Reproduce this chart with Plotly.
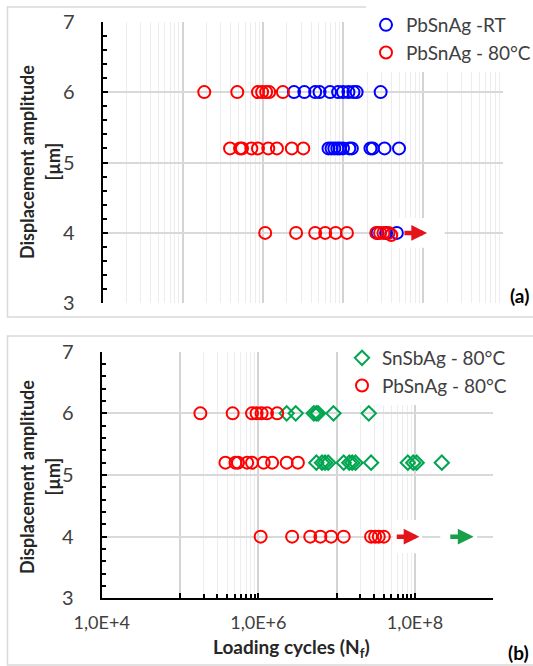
import math
import plotly.graph_objects as go

W, H = 533, 666

# ---------------- Panel (a) data ----------------
a_rt_cycles = [2.45e6, 3.3e6, 4.5e6, 5.1e6, 6.9e6, 8.7e6, 1.0e7, 1.17e7, 1.35e7, 1.48e7, 2.95e7,
               6.6e6, 7.2e6, 7.8e6, 8.5e6, 9.1e6, 1.0e7, 1.2e7, 1.29e7, 2.2e7, 2.35e7, 3.3e7, 5.0e7,
               2.7e7, 3.45e7, 4.7e7]
a_rt_amp = [6, 6, 6, 6, 6, 6, 6, 6, 6, 6, 6,
            5.2, 5.2, 5.2, 5.2, 5.2, 5.2, 5.2, 5.2, 5.2, 5.2, 5.2, 5.2,
            4, 4, 4]

a_80_cycles = [1.86e5, 4.8e5, 8.7e5, 9.8e5, 1.1e6, 1.2e6, 1.78e6,
               3.9e5, 5.2e5, 5.5e5, 7.2e5, 8.7e5, 1.17e6, 1.5e6, 2.3e6, 3.2e6,
               1.07e6, 2.6e6, 4.5e6, 6.0e6, 8.1e6, 1.12e7, 2.6e7, 2.9e7, 3.2e7, 3.7e7, 4.0e7]
a_80_amp = [6, 6, 6, 6, 6, 6, 6,
            5.2, 5.2, 5.2, 5.2, 5.2, 5.2, 5.2, 5.2, 5.2,
            4, 4, 4, 4, 4, 4, 4, 4, 4, 4, 3.97]

# ---------------- Panel (b) data ----------------
b_snsb_cycles = [2.3e6, 3.0e6, 5.1e6, 5.5e6, 5.8e6, 9.1e6, 2.57e7,
                 5.5e6, 6.5e6, 7.1e6, 7.8e6, 1.23e7, 1.45e7, 1.58e7, 1.74e7, 2.75e7, 8.1e7, 9.5e7, 1.05e8, 2.2e8]
b_snsb_amp = [6, 6, 6, 6, 6, 6, 6,
              5.2, 5.2, 5.2, 5.2, 5.2, 5.2, 5.2, 5.2, 5.2, 5.2, 5.2, 5.2, 5.2]

b_80_cycles = [1.82e5, 4.7e5, 8.3e5, 9.5e5, 1.1e6, 1.29e6, 1.74e6,
               3.8e5, 5.1e5, 5.5e5, 7.2e5, 8.3e5, 1.17e6, 1.5e6, 2.3e6, 3.2e6,
               1.07e6, 2.7e6, 4.6e6, 6.2e6, 8.5e6, 1.23e7, 2.75e7, 3.1e7, 3.45e7, 4.0e7]
b_80_amp = [6, 6, 6, 6, 6, 6, 6,
            5.2, 5.2, 5.2, 5.2, 5.2, 5.2, 5.2, 5.2, 5.2,
            4, 4, 4, 4, 4, 4, 4, 4, 4, 4]

# run-out arrows: (start cycles, end cycles, amplitude, colour)
a_arrows = [(5.6e7, 1.12e8, 4, "#E4141B")]
b_arrows = [(5.6e7, 1.14e8, 4, "#E4141B"), (2.7e8, 5.6e8, 4, "#17A04A")]
# white patches behind arrows: (x0, x1, y0, y1) in data units
a_patches = [(5.0e7, 1.86e8, 3.79, 4.21)]
b_patches = [(5.2e7, 1.23e8, 3.73, 4.27), (2.1e8, 6.2e8, 3.73, 4.27)]

x_major = [1e4, 1e5, 1e6, 1e7, 1e8, 1e9]
x_ticktext_b = ["1,0E+4", "", "1,0E+6", "", "1,0E+8", ""]
y_ticks = [3, 4, 5, 6, 7]
minor_a = [k * 10 ** e for e in range(4, 9) for k in range(2, 10)]
minor_b = [k * 10 ** e for e in (5, 7) for k in range(2, 10)]

BLUE, RED, GREEN = "#0000FF", "#FF0000", "#00A650"
FONT = "Lato, 'Open Sans', sans-serif"


def pxx(p):
    return p / W


def pyy(p):
    return 1 - p / H


fig = go.Figure()

circ = dict(symbol="circle-open", size=12, line=dict(width=2))
fig.add_trace(go.Scatter(x=a_rt_cycles, y=a_rt_amp, mode="markers", name="PbSnAg -RT",
                         marker=dict(circ, color=BLUE), xaxis="x", yaxis="y",
                         legend="legend"))
fig.add_trace(go.Scatter(x=a_80_cycles, y=a_80_amp, mode="markers", name="PbSnAg - 80°C",
                         marker=dict(circ, color=RED), xaxis="x", yaxis="y",
                         legend="legend"))
fig.add_trace(go.Scatter(x=b_snsb_cycles, y=b_snsb_amp, mode="markers", name="SnSbAg - 80°C",
                         marker=dict(symbol="diamond-open", size=11, color=GREEN, line=dict(width=2)),
                         xaxis="x2", yaxis="y2", legend="legend2"))
fig.add_trace(go.Scatter(x=b_80_cycles, y=b_80_amp, mode="markers", name="PbSnAg - 80°C",
                         marker=dict(circ, color=RED), xaxis="x2", yaxis="y2",
                         legend="legend2"))

grid_major = "#D4D4D4"
grid_minor = "#EDEDED"

common_y = dict(range=[3, 7], tickvals=y_ticks, showline=True, linecolor="black", linewidth=2,
                ticks="inside", ticklen=5, tickwidth=2, tickcolor="black",
                minor=dict(dtick=0.2, tick0=3, ticks="inside", ticklen=4, tickwidth=1.5,
                           tickcolor="black", showgrid=False),
                showgrid=True, gridcolor="#D9D9D9", gridwidth=1.5, zeroline=False,
                tickfont=dict(size=20, color="#404040", family=FONT), ticklabelstandoff=22,
                fixedrange=True)

fig.update_layout(
    width=W, height=H, margin=dict(l=0, r=0, t=0, b=0, autoexpand=False),
    paper_bgcolor="white", plot_bgcolor="white",
    font=dict(family=FONT, color="#404040"),
    xaxis=dict(type="log", range=[4, 9], domain=[pxx(102.5), pxx(503.3)], anchor="y",
               tickvals=x_major, showticklabels=False, ticks="", showline=False,
               showgrid=True, gridcolor=grid_major, gridwidth=1.5, zeroline=False,
               minor=dict(tickvals=minor_a, showgrid=True, gridcolor=grid_minor, gridwidth=1, ticks="")),
    yaxis=dict(common_y, domain=[pyy(303.3), pyy(21.7)], anchor="x"),
    xaxis2=dict(type="log", range=[4, 9], domain=[pxx(101.7), pxx(493.3)], anchor="y2",
                tickvals=x_major, ticktext=x_ticktext_b, showline=True, linecolor="black", linewidth=2,
                ticks="inside", ticklen=5, tickwidth=2, tickcolor="black",
                tickfont=dict(size=18, color="#404040", family=FONT), ticklabelstandoff=7,
                showgrid=True, gridcolor=grid_major, gridwidth=1.5, zeroline=False,
                minor=dict(tickvals=minor_b, showgrid=True, gridcolor=grid_minor, gridwidth=1,
                           ticks="inside", ticklen=4, tickwidth=1.5, tickcolor="black")),
    yaxis2=dict(common_y, domain=[pyy(598.3), pyy(351.7)], anchor="x2"),
    legend=dict(x=pxx(366), y=pyy(6), xanchor="left", yanchor="top", bgcolor="white",
                font=dict(size=19, color="#404040", family=FONT), tracegroupgap=0, itemwidth=30),
    legend2=dict(x=pxx(342), y=pyy(339), xanchor="left", yanchor="top", bgcolor="white",
                 font=dict(size=19, color="#404040", family=FONT), tracegroupgap=0, itemwidth=30),
    showlegend=True,
)

shapes = []
# panel frames
shapes.append(dict(type="rect", xref="paper", yref="paper", x0=pxx(7.5), x1=pxx(545), y0=pyy(317), y1=pyy(7),
                   line=dict(color="#D9D9D9", width=1.5), layer="below"))
shapes.append(dict(type="rect", xref="paper", yref="paper", x0=pxx(7.5), x1=pxx(545), y0=pyy(665), y1=pyy(336),
                   line=dict(color="#D9D9D9", width=1.5), layer="below"))
for (x0, x1, y0, y1) in a_patches:
    shapes.append(dict(type="rect", xref="x", yref="y", x0=x0, x1=x1, y0=y0, y1=y1,
                       fillcolor="white", line=dict(width=0), layer="between"))
for (x0, x1, y0, y1) in b_patches:
    shapes.append(dict(type="rect", xref="x2", yref="y2", x0=x0, x1=x1, y0=y0, y1=y1,
                       fillcolor="white", line=dict(width=0), layer="between"))
fig.update_layout(shapes=shapes)

ann = []
for xr, yr, arrows in (("x", "y", a_arrows), ("x2", "y2", b_arrows)):
    for (s, e, amp, col) in arrows:
        ann.append(dict(x=math.log10(e), y=amp, ax=math.log10(s), ay=amp, xref=xr, yref=yr,
                        axref=xr, ayref=yr, showarrow=True, arrowhead=2, arrowsize=0.7,
                        arrowwidth=4.5, arrowcolor=col, text=""))

title_font = dict(size=18, color="#262626", family=FONT)
for cy in (162, 477):
    ann.append(dict(x=pxx(27), y=pyy(cy), xref="paper", yref="paper", text="<b>Displacement amplitude</b>",
                    textangle=-90, showarrow=False, font=title_font, xanchor="center", yanchor="middle"))
    ann.append(dict(x=pxx(52.5), y=pyy(cy), xref="paper", yref="paper", text="<b>[µm]</b>",
                    textangle=-90, showarrow=False, font=title_font, xanchor="center", yanchor="middle"))
ann.append(dict(x=pxx(291), y=pyy(648), xref="paper", yref="paper",
                text="<b>Loading cycles (N<sub>f</sub>)</b>", showarrow=False,
                font=dict(size=19, color="#262626", family=FONT),
                xanchor="center", yanchor="middle"))
ann.append(dict(x=pxx(519), y=pyy(295), xref="paper", yref="paper", text="<b>(a)</b>", showarrow=False,
                font=dict(size=19, color="black", family=FONT), xanchor="center", yanchor="middle"))
ann.append(dict(x=pxx(518), y=pyy(652), xref="paper", yref="paper", text="<b>(b)</b>", showarrow=False,
                font=dict(size=19, color="black", family=FONT), xanchor="center", yanchor="middle"))
fig.update_layout(annotations=ann)

fig.write_html("out.html")
